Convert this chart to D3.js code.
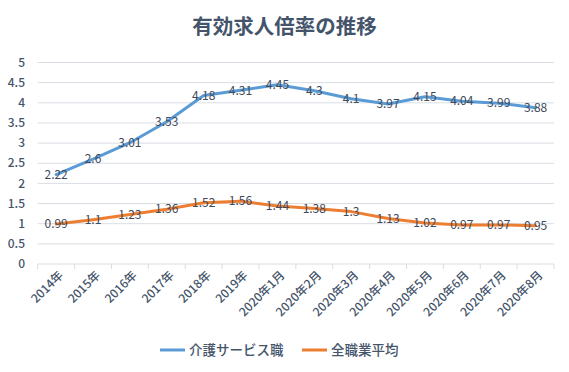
<!DOCTYPE html>
<html>
<head>
<meta charset="utf-8">
<script src="https://cdn.jsdelivr.net/npm/d3@7"></script>
<style>
  body { margin: 0; background: #fff; }
  text { font-family: "Noto Sans CJK JP", "Noto Sans", sans-serif; }
</style>
</head>
<body>
<div id="chart"></div>
<script>
const categories = ["2014年", "2015年", "2016年", "2017年", "2018年", "2019年",
    "2020年1月", "2020年2月", "2020年3月", "2020年4月", "2020年5月", "2020年6月", "2020年7月", "2020年8月"];
const kaigo = [2.22, 2.6, 3.01, 3.53, 4.18, 4.31, 4.45, 4.3, 4.1, 3.97, 4.15, 4.04, 3.99, 3.88];
const zenshoku = [0.99, 1.1, 1.23, 1.36, 1.52, 1.56, 1.44, 1.38, 1.3, 1.13, 1.02, 0.97, 0.97, 0.95];
const yTicks = [0, 0.5, 1, 1.5, 2, 2.5, 3, 3.5, 4, 4.5, 5];
const seriesNames = ["介護サービス職", "全職業平均"];
const seriesColors = ["#5b9bd5", "#ed7d31"];

const width = 569, height = 372;
const margin = {top: 62.5, right: 15, bottom: 108, left: 37.7};
const textColor = "#44546a";

const svg = d3.select("#chart").append("svg")
    .attr("width", width)
    .attr("height", height);

svg.append("text")
    .attr("x", width / 2)
    .attr("y", 34)
    .attr("text-anchor", "middle")
    .attr("font-size", 20.5)
    .attr("font-weight", "bold")
    .attr("fill", textColor)
    .text("有効求人倍率の推移");

const x = d3.scaleBand()
    .domain(categories)
    .range([margin.left, width - margin.right]);

const y = d3.scaleLinear()
    .domain([0, 5])
    .range([height - margin.bottom, margin.top]);

// gridlines
svg.append("g")
    .selectAll("line")
    .data(yTicks.filter(d => d > 0))
    .join("line")
    .attr("x1", margin.left)
    .attr("x2", width - margin.right)
    .attr("y1", d => y(d))
    .attr("y2", d => y(d))
    .attr("stroke", "#d9dde3")
    .attr("stroke-width", 1);

// y labels
svg.append("g")
    .selectAll("text")
    .data(yTicks)
    .join("text")
    .attr("x", 25)
    .attr("y", d => y(d))
    .attr("dy", "0.35em")
    .attr("text-anchor", "end")
    .attr("font-size", 12)
    .attr("font-weight", 500)
    .attr("fill", textColor)
    .text(d => d);

// x axis
const xAxis = svg.append("g")
    .attr("transform", `translate(0,${y(0)})`);

xAxis.append("line")
    .attr("x1", margin.left)
    .attr("x2", width - margin.right)
    .attr("stroke", "#d9dde3");

const bounds = categories.map(c => x(c)).concat([width - margin.right]);
xAxis.selectAll(".tick")
    .data(bounds)
    .join("line")
    .attr("class", "tick")
    .attr("x1", d => d)
    .attr("x2", d => d)
    .attr("y1", 0)
    .attr("y2", 5)
    .attr("stroke", "#d9dde3");

xAxis.selectAll(".xlabel")
    .data(categories)
    .join("text")
    .attr("class", "xlabel")
    .attr("transform", d => `translate(${x(d) + x.bandwidth() / 2 + 5},${9}) rotate(-45)`)
    .attr("text-anchor", "end")
    .attr("dy", "0.35em")
    .attr("font-size", 12)
    .attr("font-weight", 500)
    .attr("fill", textColor)
    .text(d => d);

// lines
const line = d3.line()
    .x((d, i) => x(categories[i]) + x.bandwidth() / 2)
    .y(d => y(d));

[kaigo, zenshoku].forEach((vals, k) => {
    svg.append("path")
        .datum(vals)
        .attr("fill", "none")
        .attr("stroke", seriesColors[k])
        .attr("stroke-width", 3)
        .attr("stroke-linejoin", "round")
        .attr("stroke-linecap", "round")
        .attr("d", line);

    svg.append("g")
        .selectAll("text")
        .data(vals)
        .join("text")
        .attr("x", (d, i) => x(categories[i]) + x.bandwidth() / 2)
        .attr("y", d => y(d))
        .attr("dy", "0.35em")
        .attr("text-anchor", "middle")
        .attr("font-size", 12)
        .attr("fill", "#404a5a")
        .text(d => d);
});

// legend
const legend = svg.append("g")
    .attr("transform", `translate(0,${350})`);

const legendX = [160, 302];
seriesNames.forEach((name, k) => {
    legend.append("line")
        .attr("x1", legendX[k])
        .attr("x2", legendX[k] + 25)
        .attr("stroke", seriesColors[k])
        .attr("stroke-width", 3);
    legend.append("text")
        .attr("x", legendX[k] + 29)
        .attr("dy", "0.35em")
        .attr("font-size", 13.5)
        .attr("font-weight", 500)
        .attr("fill", textColor)
        .text(name);
});
</script>
</body>
</html>
